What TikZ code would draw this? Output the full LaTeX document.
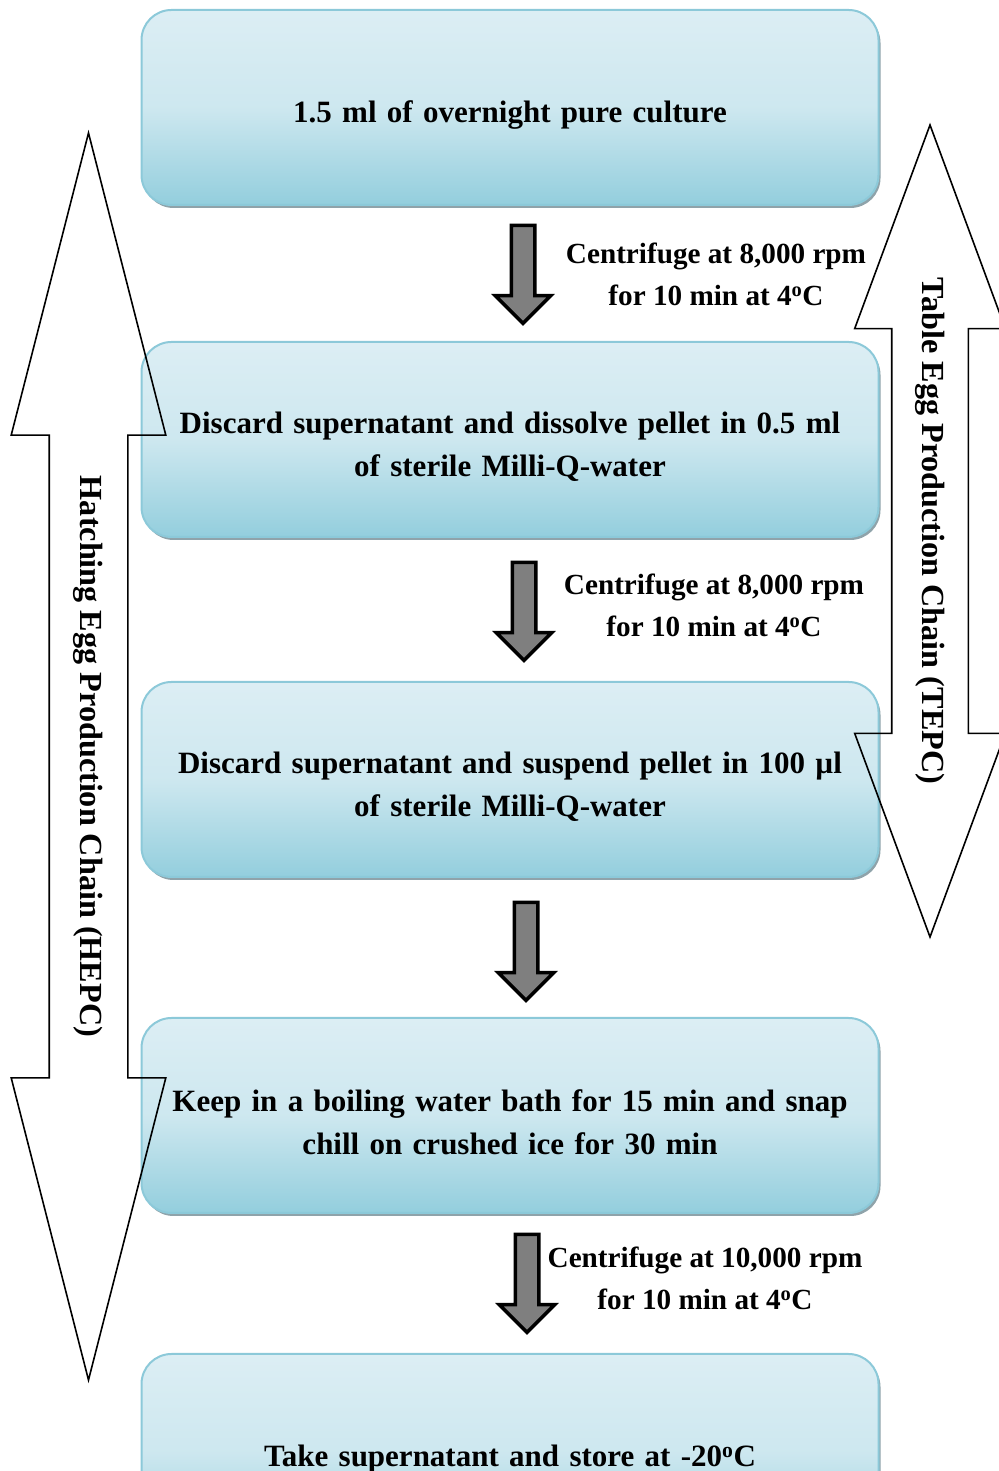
\documentclass[tikz,border=0pt]{standalone}
\usepackage{fontspec}
\setmainfont{Liberation Serif}
\usetikzlibrary{calc,positioning,shapes.arrows,shadows}
\definecolor{boxlight}{HTML}{DCEEF4}
\definecolor{boxdark}{HTML}{93CEDD}
\definecolor{boxline}{HTML}{8CC9D9}
\definecolor{shadowgray}{HTML}{8FA3AA}
\definecolor{arrowgray}{HTML}{7F7F7F}
\tikzset{%
	stepbox/.style    = {rectangle, rounded corners=30pt, draw=boxline, line width=2pt, top color=boxlight, bottom color=boxdark, middle color=boxlight!80!boxdark, minimum width=737pt, minimum height=195pt, text width=720pt, align=center, font=\fontsize{31}{43}\selectfont\bfseries, execute at begin node={\rule{0pt}{36pt}}, drop shadow={shadow xshift=2pt, shadow yshift=-3pt, fill=shadowgray, opacity=1}}, % process step
	downarrow/.style  = {single arrow, shape border rotate=270, draw=black, line width=3.5pt, fill=arrowgray, minimum height=98pt, inner sep=10pt, single arrow head extend=16pt}, % block arrow
	steplabel/.style  = {align=center, font=\fontsize{29.2}{42}\selectfont\bfseries}, % centrifuge text
	chainarrow/.style = {double arrow, shape border rotate=90, draw=black, line width=1.6pt}, % side arrow
	chainlabel/.style = {rotate=-90, font=\fontsize{32.2}{42}\selectfont\bfseries}, % side text
}
\begin{document}
\begin{tikzpicture}[x=1pt, y=1pt, node distance=336pt]
	\useasboundingbox (0,0) rectangle (998,1471);
	\node[stepbox] (culture) at (510,1363.5) {1.5 ml of overnight pure culture};
	\node[stepbox,below of=culture,yshift=4pt] (dissolve) {Discard supernatant and dissolve pellet in 0.5 ml\\of sterile Milli-Q-water};
	\node[stepbox,below of=dissolve,yshift=-4pt] (suspend) {Discard supernatant and suspend pellet in 100 µl\\of sterile Milli-Q-water};
	\node[stepbox,below of=suspend] (boil) {Keep in a boiling water bath for 15 min and snap\\chill on crushed ice for 30 min};
	\node[stepbox,below of=boil] (store) {Take supernatant and store at -20\textsuperscript{o}C};
	
	\node[downarrow] (a1) at ($(culture)!.5!(dissolve)+(13,5)$) {};
	\node[downarrow] (a2) at ($(dissolve)!.5!(suspend)+(14,4)$) {};
	\node[downarrow] (a3) at ($(suspend)!.5!(boil)+(16,2)$) {};
	\node[downarrow] (a4) at ($(boil)!.5!(store)+(17,6)$) {};
	\node[steplabel,node distance=193pt,right of=a1,yshift=-6pt] (c1) {Centrifuge at 8,000 rpm\\for 10 min at 4\textsuperscript{o}C};
	\node[steplabel,node distance=190pt,right of=a2] (c2) {Centrifuge at 8,000 rpm\\for 10 min at 4\textsuperscript{o}C};
	\node[steplabel,node distance=178pt,right of=a4,yshift=-1pt] (c4) {Centrifuge at 10,000 rpm\\for 10 min at 4\textsuperscript{o}C};
	
	\node[chainarrow, inner sep=38.5pt, double arrow head extend=38pt, double arrow tip angle=28.7, minimum height=1247pt] (hepc) at (88.5,714.5) {};
	\node[chainlabel] at (hepc) {Hatching Egg Production Chain (HEPC)};
	\node[chainarrow, inner sep=37.5pt, double arrow head extend=37pt, double arrow tip angle=40.6, minimum height=812pt] (tepc) at (930,940) {};
	\node[chainlabel] at (tepc) {Table Egg Production Chain (TEPC)};
\end{tikzpicture}
\end{document}
